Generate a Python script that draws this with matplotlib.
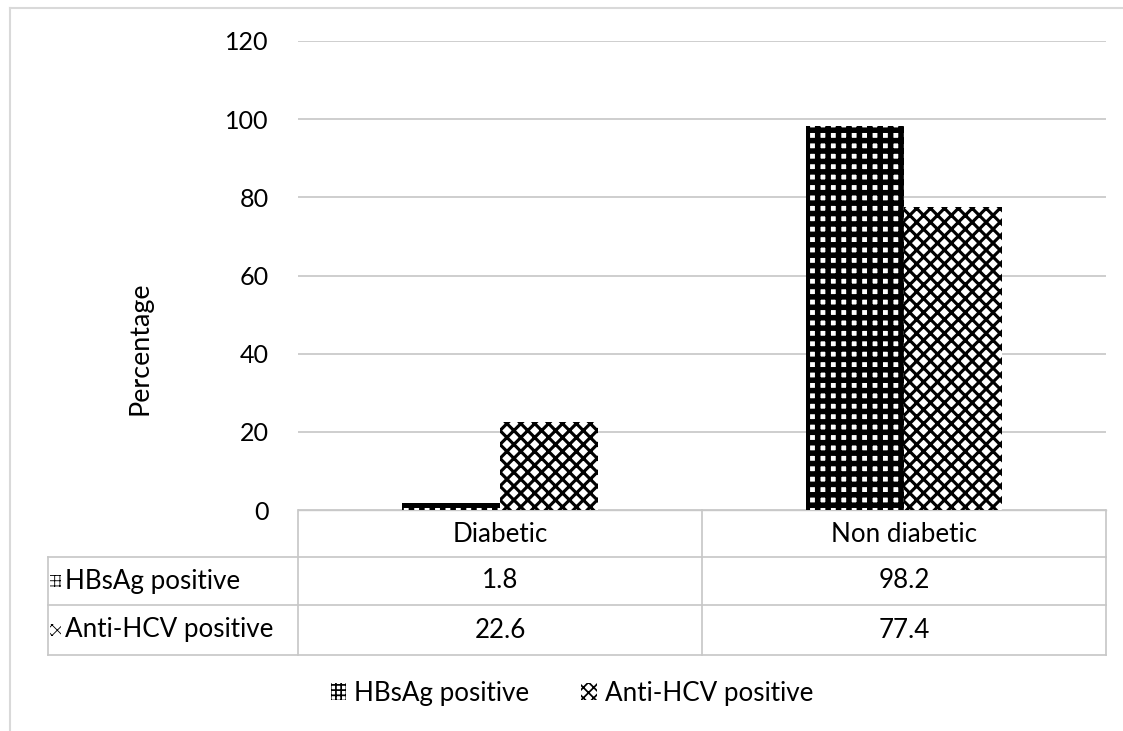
import matplotlib
matplotlib.use("Agg")
import matplotlib.pyplot as plt
import matplotlib.transforms as mtransforms
from matplotlib.patches import Rectangle
from matplotlib.lines import Line2D
import numpy as np

categories = ["Diabetic", "Non diabetic"]
series_names = ["HBsAg positive", "Anti-HCV positive"]
hbsag = [1.8, 98.2]
anti_hcv = [22.6, 77.4]
yticks = [0, 20, 40, 60, 80, 100, 120]

W, H, DPI = 1123, 731, 125
plt.rcParams['font.family'] = ['Lato', 'DejaVu Sans']
fig = plt.figure(figsize=(W / DPI, H / DPI), dpi=DPI)

def fx(px):
    return px / W

def fy(py):
    return 1 - py / H

ax_left, ax_right, ax_top, ax_bot = 298, 1106, 41, 510
ax = fig.add_axes([fx(ax_left), fy(ax_bot), fx(ax_right - ax_left), fy(ax_top) - fy(ax_bot)])

x = np.arange(len(categories))
bw = 0.243
hatches = ["++", "xxx"]
small_hatches = ["++++", "xxxx"]
hlw = [3.2, 1.8]
values = [hbsag, anti_hcv]
for k, (vals, h) in enumerate(zip(values, hatches)):
    off = (k - 0.5) * bw
    bars = ax.bar(x + off, vals, width=bw, color="white", edgecolor="black",
                  linewidth=0, hatch=h, zorder=3)
    for b in bars:
        if hasattr(b, "set_hatch_linewidth"):
            b.set_hatch_linewidth(hlw[k])

ax.set_xlim(-0.5, 1.5)
ax.set_ylim(0, 120)
ax.set_yticks(yticks)
ax.set_yticklabels([str(t) for t in yticks], fontsize=14.5)
ax.tick_params(axis="y", length=0, pad=17)
ax.tick_params(axis="x", length=0, labelbottom=False)
ax.grid(axis="y", color="#c8c8c8", linewidth=1.0, zorder=0)
for s in ["left", "right", "top"]:
    ax.spines[s].set_visible(False)
ax.spines["bottom"].set_color("#c8c8c8")
fig.text(fx(140), fy(348), "Percentage", rotation=90, ha="center", va="center", fontsize=15.5)

# table
gcol = "#c8c8c8"
for ry in [557, 605, 655]:
    fig.add_artist(Line2D([fx(48), fx(ax_right)], [fy(ry), fy(ry)], color=gcol, lw=1.0))
fig.add_artist(Line2D([fx(48), fx(48)], [fy(557), fy(655)], color=gcol, lw=1.0))
blend = mtransforms.blended_transform_factory(ax.transData, fig.transFigure)
for xb in [-0.5, 0.5, 1.5]:
    ax.add_line(Line2D([xb, xb], [fy(510), fy(655)], color=gcol, lw=1.0,
                       transform=blend, clip_on=False))
for i, c in enumerate(categories):
    ax.text(i, fy(535), c, transform=blend, ha="center", va="center", fontsize=15)
row_y = [581, 630]
for k, (name, vals) in enumerate(zip(series_names, values)):
    for i, v in enumerate(vals):
        ax.text(i, fy(row_y[k]), f"{v}", transform=blend, ha="center", va="center", fontsize=15)
    r = Rectangle((fx(50), fy(row_y[k] + 6)), fx(11), fy(0) - fy(12), transform=fig.transFigure,
                  facecolor="white", edgecolor="black", linewidth=0, hatch=small_hatches[k])
    if hasattr(r, "set_hatch_linewidth"):
        r.set_hatch_linewidth(0.5)
    fig.add_artist(r)
    fig.text(fx(65), fy(row_y[k]), name, ha="left", va="center", fontsize=15)

# legend
handles = []
for k in range(2):
    p = Rectangle((0, 0), 1, 1, facecolor="white", edgecolor="black", linewidth=0,
                  hatch=small_hatches[k])
    if hasattr(p, "set_hatch_linewidth"):
        p.set_hatch_linewidth(0.5)
    handles.append(p)
leg = fig.legend(handles, series_names, loc="center", bbox_to_anchor=(fx(572), fy(693)),
                 ncol=2, frameon=False, fontsize=15, handlelength=0.6, handleheight=0.6,
                 handletextpad=0.3, columnspacing=2.0)

# outer border
fig.add_artist(Line2D([fx(10), fx(1123)], [fy(8), fy(8)], color="#d9d9d9", lw=1.2))
fig.add_artist(Line2D([fx(10), fx(10)], [fy(8), fy(731)], color="#d9d9d9", lw=1.2))

fig.savefig("out.png", dpi=DPI)
